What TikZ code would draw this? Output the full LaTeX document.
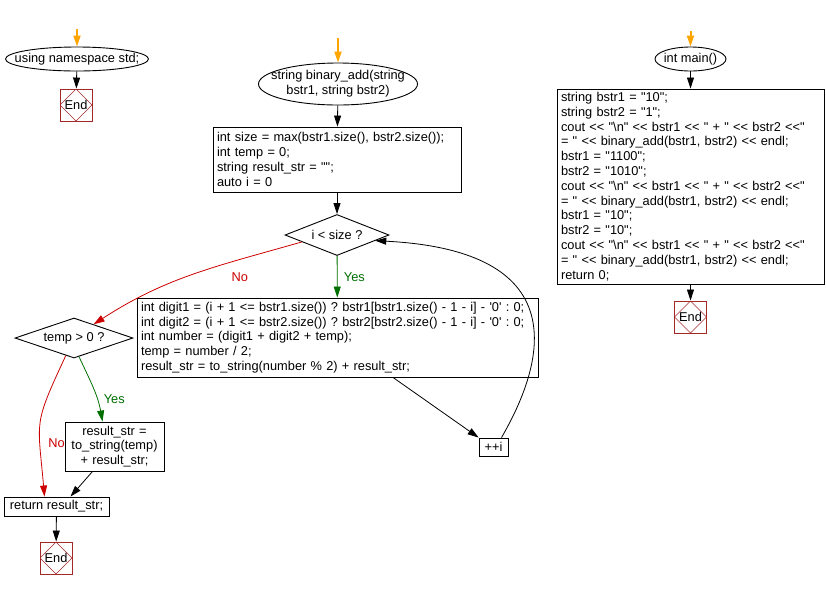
\documentclass[tikz,border=0pt]{standalone}
\usepackage{fontspec}
\newfontfamily\codefont{Liberation Sans}
\newcommand\flowfont{\codefont\fontsize{12.8}{14.8}\selectfont\frenchspacing}
\usetikzlibrary{positioning,arrows.meta,shapes.geometric,calc}
\definecolor{nored}{RGB}{204,0,0}
\definecolor{yesgreen}{RGB}{0,110,0}
\definecolor{startorange}{RGB}{255,165,0}
\definecolor{endred}{RGB}{165,40,40}
\tikzset{
  blk/.style={draw, line width=0.9pt, inner xsep=4pt, inner ysep=2pt},
  term/.style={draw, ellipse, line width=0.9pt, inner sep=0pt, align=center},
  dec/.style={draw, diamond, aspect=3, line width=0.9pt, inner sep=0pt},
  endbox/.style={draw=endred, line width=0.9pt, minimum size=32pt, inner sep=0pt,
                 path picture={\draw[endred, line width=0.6pt]
                   (path picture bounding box.north) -- (path picture bounding box.east)
                   -- (path picture bounding box.south) -- (path picture bounding box.west) -- cycle;}},
  flow/.style={-{Triangle[length=11pt,width=7pt]}, line width=0.8pt},
  startflow/.style={flow, startorange, line width=2pt},
}
\begin{document}
\begin{tikzpicture}[x=1pt, y=1pt, font=\flowfont]
    \useasboundingbox (0,0) rectangle (826,-590);

    % using namespace std
    \coordinate (s1) at (77,-29);
    \node[term, minimum width=143pt, minimum height=24pt] (nsp) at (77,-59) {\makebox[80pt]{using namespace std;}};
    \node[endbox] (end1) at (76,-105) {End};

    % binary_add
    \coordinate (s2) at (338,-38);
    \node[term, minimum width=159pt, minimum height=42pt] (bin) at (338,-84)
      {\makebox[80pt]{string binary\_add(string}\\\makebox[80pt]{bstr1, string bstr2)}};
    \node[blk, text width=240pt, minimum height=65pt, align=left] (init) at (337,-159.5)
      {int size = max(bstr1.size(), bstr2.size());\\int temp = 0;\\string result\_str = "";\\auto i = 0};
    \node[dec, minimum width=104pt, minimum height=41pt] (loop) at (337,-235) {i < size ?};
    \node[blk, text width=393pt, minimum height=79pt, align=left] (body) at (337.5,-337.5)
      {int digit1 = (i + 1 <= bstr1.size()) ? bstr1[bstr1.size() - 1 - i] - \textquotesingle 0\textquotesingle{} : 0;\\
       int digit2 = (i + 1 <= bstr2.size()) ? bstr2[bstr2.size() - 1 - i] - \textquotesingle 0\textquotesingle{} : 0;\\
       int number = (digit1 + digit2 + temp);\\
       temp = number / 2;\\
       result\_str = to\_string(number \% 2) + result\_str;};
    \node[blk, minimum width=29pt, minimum height=18pt] (inc) at (493.5,-447) {++i};
    \node[dec, minimum width=118pt, minimum height=40pt] (tmp) at (74,-338) {temp > 0 ?};
    \node[blk, text width=91pt, minimum height=49pt, align=center] (res) at (114.5,-446.5)
      {result\_str =\\to\_string(temp)\\+ result\_str;};
    \node[blk, minimum width=105pt, minimum height=19pt] (ret) at (56.5,-506.5) {return result\_str;};
    \node[endbox] (end2) at (56,-558) {End};

    % main
    \coordinate (s3) at (690.5,-31);
    \node[term, minimum width=71pt, minimum height=24pt] (main) at (690.5,-59) {\makebox[30pt]{int main()}};
    \node[blk, text width=259pt, minimum height=195pt, align=left] (mbody) at (690.5,-186.5)
      {string bstr1 = "10";\\
       string bstr2 = "1";\\
       cout << "\textbackslash n" << bstr1 << " + " << bstr2 <<"\\
       = " << binary\_add(bstr1, bstr2) << endl;\\
       bstr1 = "1100";\\
       bstr2 = "1010";\\
       cout << "\textbackslash n" << bstr1 << " + " << bstr2 <<"\\
       = " << binary\_add(bstr1, bstr2) << endl;\\
       bstr1 = "10";\\
       bstr2 = "10";\\
       cout << "\textbackslash n" << bstr1 << " + " << bstr2 <<"\\
       = " << binary\_add(bstr1, bstr2) << endl;\\
       return 0;};
    \node[endbox] (end3) at (690.5,-317) {End};

    \draw[startflow] (s1) -- (nsp);
    \draw[flow] (nsp) -- (end1);
    \draw[startflow] (s2) -- (bin);
    \draw[flow] (bin) -- (init);
    \draw[flow] (init) -- (loop);
    \draw[flow, yesgreen] (loop) -- node[right=3pt] {Yes} (body);
    \draw[flow, nored] ($(loop.west)!0.33!(loop.south)$) to[out=196, in=33]
      node[pos=0.27, below=9pt] {No} ($(tmp.north)!0.33!(tmp.east)$);
    \draw[flow] ([xshift=55.5pt]body.south) -- (inc.north west);
    \draw[flow] ([xshift=8pt]inc.north) .. controls (555,-345) and (560,-250) .. ($(loop.east)!0.27!(loop.south)$);
    \draw[flow, yesgreen] (tmp.-75) to[out=-65, in=100]
      node[pos=0.68, right=3pt] {Yes} ([xshift=-12pt]res.north);
    \draw[flow, nored] (tmp.-115) to[out=245, in=95, looseness=1.4]
      node[pos=0.68, right=5pt] {No} ([xshift=-12pt]ret.north);
    \draw[flow] ([xshift=-22pt]res.south) -- ([xshift=14pt]ret.north);
    \draw[flow] (ret) -- (end2);
    \draw[startflow] (s3) -- (main);
    \draw[flow] (main) -- (mbody);
    \draw[flow] (mbody) -- (end3);
\end{tikzpicture}
\end{document}
